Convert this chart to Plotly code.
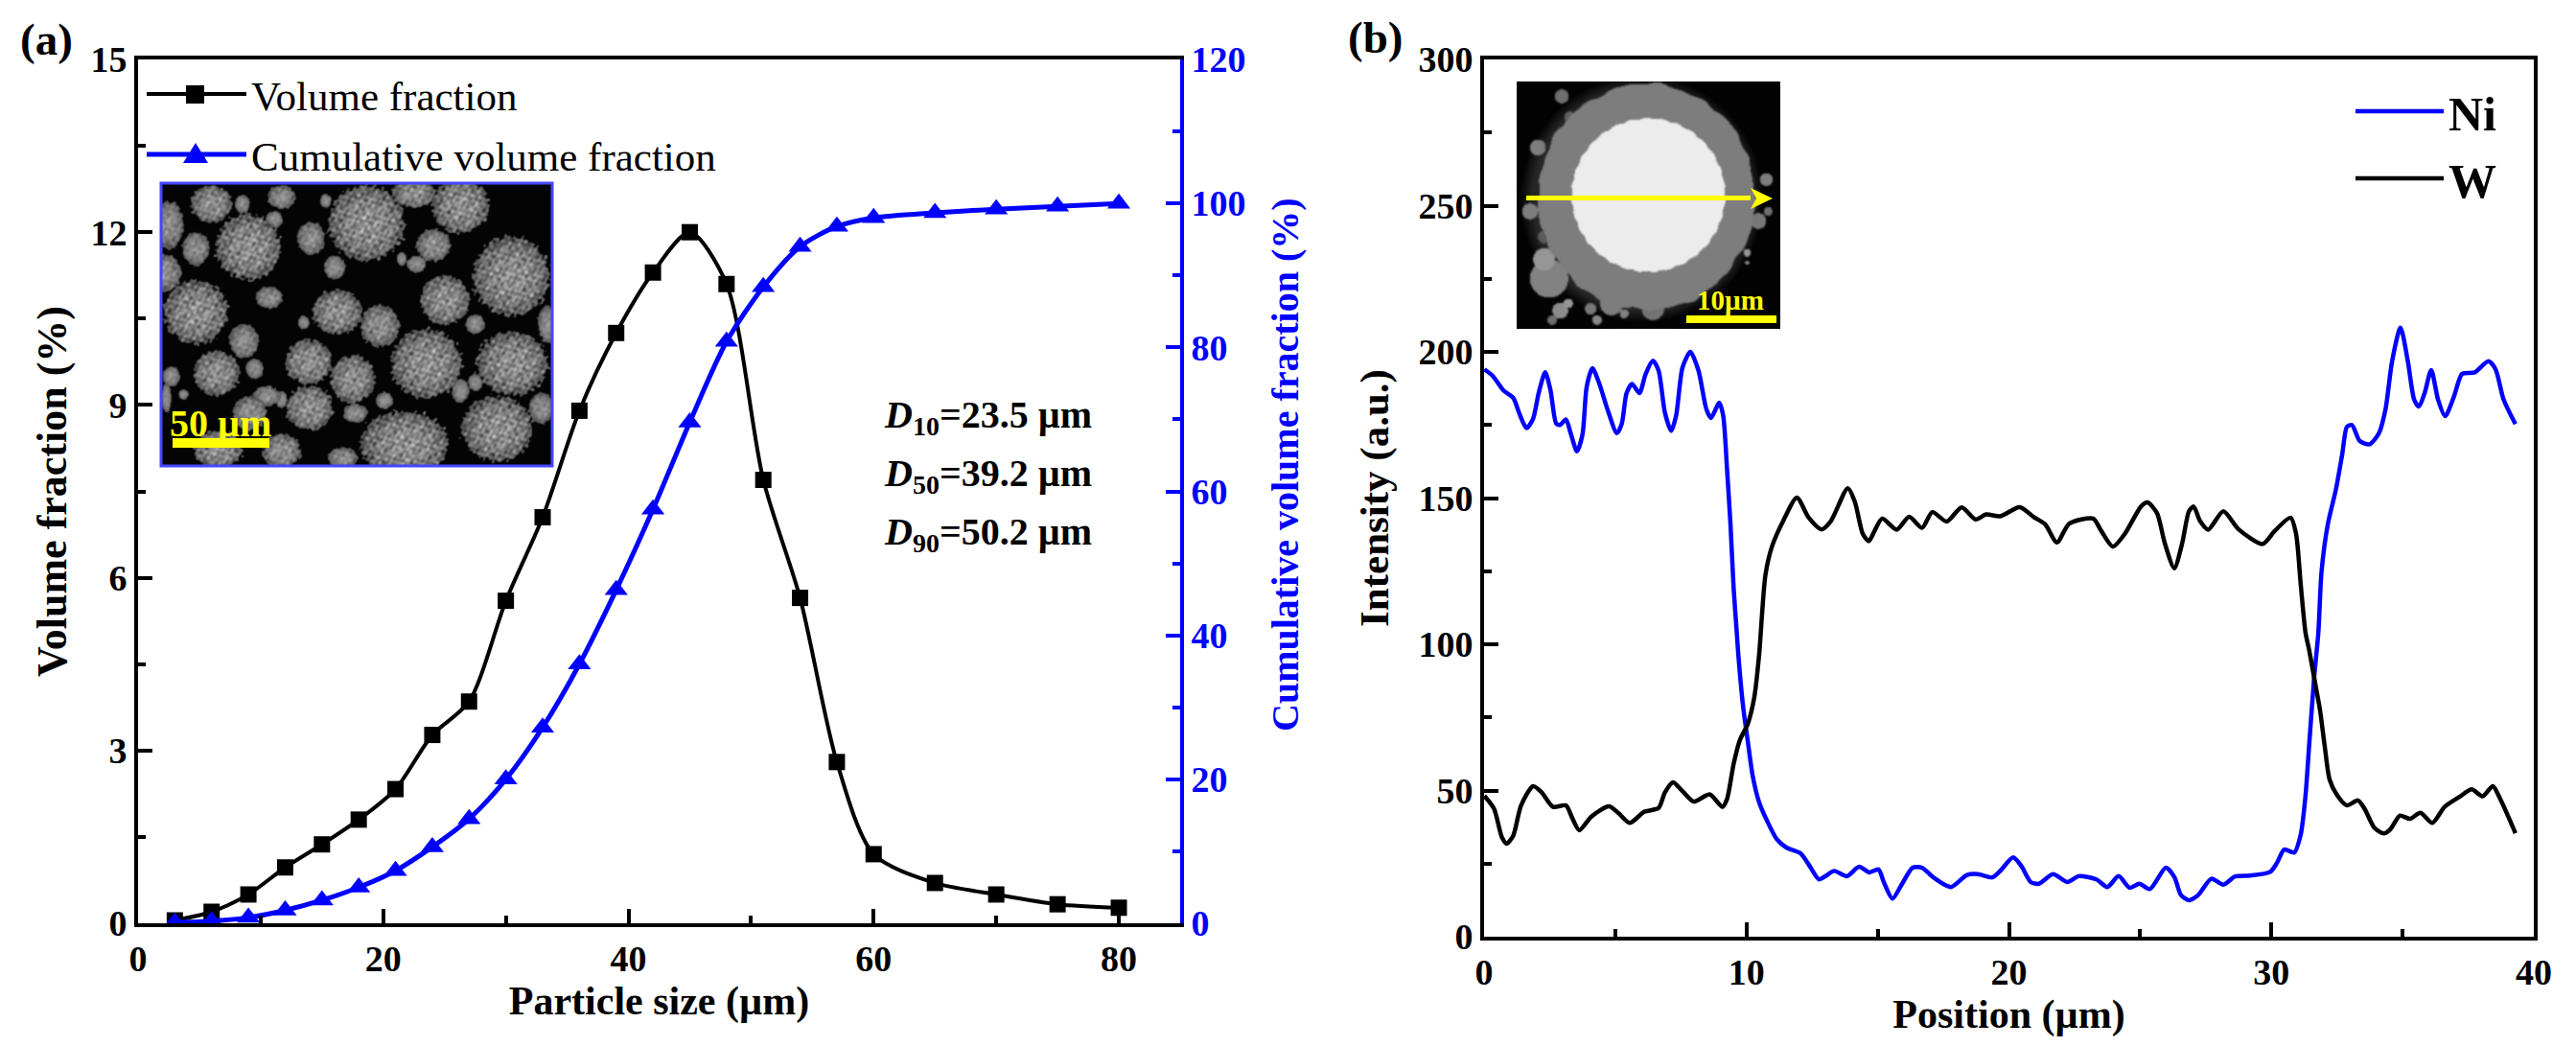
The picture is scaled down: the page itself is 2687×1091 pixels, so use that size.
import base64, struct, zlib
import numpy as np
import plotly.graph_objects as go

W, H = 2687, 1091
BLUE = "#0000ff"
SERIF = "Liberation Serif"

# ---------- data ----------
size_um = [3, 6, 9, 12, 15, 18, 21, 24, 27, 30, 33, 36, 39, 42, 45, 48, 51, 54, 57, 60, 65, 70, 75, 80]
volume_fraction = [0.05, 0.2, 0.5, 0.97, 1.37, 1.8, 2.33, 3.27, 3.85, 5.6, 7.05, 8.9, 10.25, 11.3, 12.0, 11.1,
                   7.7, 5.65, 2.8, 1.2, 0.7, 0.5, 0.33, 0.27]
cumulative_fraction = [0.1, 0.3, 0.8, 1.8, 3.2, 5.0, 7.3, 10.6, 14.5, 20.0, 27.2, 36.0, 46.3, 57.5, 69.6, 80.8,
                       88.4, 94.0, 96.8, 98.0, 98.7, 99.2, 99.6, 100.0]

ni_x = [0.01, 0.32, 0.74, 1.11, 1.35, 1.62, 1.87, 2.08, 2.33, 2.53, 2.75, 2.9, 3.12, 3.3, 3.54, 3.75, 3.91, 4.13,
        4.39, 4.7, 5.06, 5.25, 5.43, 5.64, 5.92, 6.16, 6.43, 6.65, 6.89, 7.13, 7.32, 7.56, 7.86, 8.17, 8.47, 8.65,
        8.96, 9.11, 9.26, 9.39, 9.51, 9.63, 9.69, 9.87, 10.05, 10.24, 10.48, 10.79, 11.15, 11.52, 12.06, 12.37,
        12.76, 13.04, 13.34, 13.83, 14.29, 14.68, 15.03, 15.23, 15.56, 15.9, 16.33, 16.69, 17.12, 17.79, 18.4,
        18.82, 19.37, 19.67, 20.16, 20.47, 20.83, 21.14, 21.68, 22.23, 22.66, 23.33, 23.75, 24.18, 24.6, 24.97,
        25.37, 25.98, 26.31, 26.55, 26.86, 27.22, 27.71, 28.17, 28.62, 29.17, 29.96, 30.21, 30.49, 30.87, 31.12,
        31.3, 31.45, 31.63, 31.79, 31.91, 32.15, 32.46, 32.7, 32.88, 33.07, 33.37, 33.74, 34.1, 34.35, 34.6,
        34.92, 35.2, 35.44, 35.62, 35.84, 36.09, 36.35, 36.62, 36.96, 37.27, 37.75, 38.27, 38.54, 38.85, 39.3]
ni_y = [194, 191.9, 186.8, 184.3, 178.8, 173.9, 177.2, 185.9, 193, 187, 175.5, 175, 176.9, 172.2, 166, 171.7, 188,
        194.4, 189.2, 180.4, 172.2, 175.5, 185.9, 189, 185.9, 192.5, 197, 193.6, 179.3, 173, 178.3, 194.6, 200,
        193.6, 180.4, 177.4, 182.6, 178.3, 159.7, 141, 119.2, 104, 96.3, 78.8, 66.8, 54.8, 46, 39.5, 33.4, 30.5,
        28.5, 24.7, 19.6, 20.9, 22.5, 20.7, 23.9, 22, 23, 18.7, 13, 17.6, 23.6, 23.6, 20.3, 17, 21.1, 21.4, 20.3,
        22.5, 27.1, 24.2, 18.7, 18.1, 21.4, 18.7, 20.7, 19.6, 17, 20.7, 16.7, 18.1, 16.3, 23.6, 20.3, 14.3, 12.5,
        14.3, 19.8, 17.8, 20.6, 20.9, 22.2, 25.2, 29.8, 28.8, 35, 48.2, 66.8, 88.6, 104, 124.7, 141, 153, 165,
        174.4, 175, 169.5, 168.4, 172.2, 180.4, 196.8, 208.3, 196.8, 183.7, 181.3, 185.9, 193.8, 183.7, 178,
        184.8, 192.5, 193, 196.8, 194.1, 183.7, 175.3]

w_x = [0.01, 0.38, 0.68, 0.86, 1.11, 1.41, 1.87, 2.2, 2.63, 3.12, 3.36, 3.63, 4.09, 4.76, 5.13, 5.55, 6.1, 6.65,
       6.89, 7.2, 7.5, 7.99, 8.6, 9.08, 9.26, 9.51, 9.75, 10.05, 10.3, 10.48, 10.72, 10.97, 11.4, 11.92, 12.37,
       12.86, 13.22, 13.86, 14.13, 14.43, 14.66, 14.86, 15.17, 15.72, 16.2, 16.69, 17.08, 17.63, 18.2, 18.73,
       19.13, 19.67, 20.41, 20.95, 21.38, 21.83, 22.3, 23.21, 23.51, 23.96, 24.42, 25.03, 25.28, 25.64, 25.94,
       26.3, 26.6, 26.86, 27.04, 27.28, 27.59, 28.17, 28.74, 29.66, 30.14, 30.73, 30.94, 31.12, 31.3, 31.43,
       31.63, 31.85, 32.04, 32.22, 32.52, 32.88, 33.3, 33.55, 33.92, 34.28, 34.53, 34.9, 35.28, 35.68, 36.13,
       36.6, 37.2, 37.63, 38.05, 38.44, 38.72, 39.3]
w_y = [48.2, 43.8, 34, 31.8, 34.5, 44.9, 51.5, 49.3, 44.4, 44.9, 40.6, 36.4, 41.1, 44.6, 42.2, 38.9, 42.7, 44,
       49.3, 52.8, 50.4, 46.2, 48.7, 44.4, 47.1, 59.1, 67.3, 72.8, 82, 96.3, 123.6, 133.4, 142.2, 150.2, 143.3,
       139.3, 142.2, 153.4, 148.7, 137.8, 135.3, 138.4, 143, 139.2, 143.6, 139.8, 145.2, 142, 146.8, 142.7,
       144.4, 143.8, 146.9, 143.5, 141, 134.8, 141.3, 143, 138.9, 133.4, 137.8, 147.1, 148.5, 144.9, 134.5,
       126, 134.5, 145.5, 147.1, 142.2, 139.2, 145.5, 139.4, 134.3, 138.9, 143.3, 137.8, 120.3, 104, 98.5,
       88.6, 77.7, 64.6, 53.7, 48.2, 44.9, 46.6, 43.8, 37.3, 35.3, 36.7, 41.4, 40.3, 42.4, 38.9, 44.4, 48,
       50.4, 48, 51.5, 47.1, 35.4]

d_labels = ["<i>D</i><sub>10</sub>=23.5 µm", "<i>D</i><sub>50</sub>=39.2 µm", "<i>D</i><sub>90</sub>=50.2 µm"]

# ---------- pixel helpers (layout only) ----------
ML, MR, MT, MB = 144, 2643, 62, 977   # plot area in page pixels
def px(x): return (x - ML) / (MR - ML)
def py(y): return (MB - y) / (MB - MT)

A = dict(l=144, r=1231, t=62, b=963)
B = dict(l=1548, r=2643, t=62, b=977)

# ---------- inset pictures ----------
def to_png(a):
    a = np.clip(a, 0, 255).astype(np.uint8)
    h, w = a.shape[:2]
    raw = b"".join(b"\x00" + a[i].tobytes() for i in range(h))
    def chunk(t, d):
        return struct.pack(">I", len(d)) + t + d + struct.pack(">I", zlib.crc32(t + d) & 0xffffffff)
    png = b"\x89PNG\r\n\x1a\n" + chunk(b"IHDR", struct.pack(">IIBBBBB", w, h, 8, 2, 0, 0, 0)) \
        + chunk(b"IDAT", zlib.compress(raw)) + chunk(b"IEND", b"")
    return "data:image/png;base64," + base64.b64encode(png).decode()

def blur(g, n=1):
    for _ in range(n):
        g = (g + np.roll(g, 1, 0) + np.roll(g, -1, 0) + np.roll(g, 1, 1) + np.roll(g, -1, 1)) / 5
    return g

def sem_inset():
    w, h = 408, 295
    yy, xx = np.mgrid[0:h, 0:w].astype(float)
    g = np.full((h, w), 4.0)
    waves = [(0.531, 0.947, 0.3), (0.853, -0.451, 1.1), (-0.317, 1.153, 2.0), (1.049, 0.233, 2.9), (0.719, 0.613, 4.1),
             (0.271, -0.823, 5.2), (1.237, 0.761, 0.7), (-0.643, 0.389, 3.5), (0.197, 0.433, 1.9), (-0.401, -0.157, 4.7)]
    tex = sum(np.sin(fx * xx + fy * yy + ph) for fx, fy, ph in waves) * 9.5
    parts = [(748,650,78,110),(507,720,66,95),(1043,805,78,115),(400,910,65,92),(870,1060,72,100),(1045,1060,72,92),
             (1015,1250,72,95),(825,1295,90,95),(632,1190,48,65),(630,1055,48,65),(720,1105,45,70),(442,1088,47,65),
             (908,875,50,72),(688,910,50,65),(775,950,40,60),(940,600,58,80),(432,595,42,55),(345,655,30,70),
             (400,725,28,48),(885,715,35,48),(635,695,28,48),(683,780,22,35),(575,575,28,35),(845,565,45,40),
             (335,795,35,55),(550,868,28,32),(495,595,15,28),(560,640,18,25),(665,585,12,20),(498,995,30,50),
             (520,1075,18,30),(350,1098,18,30),(970,945,20,28),(1118,945,20,55),(785,1168,18,25),(940,1140,18,35),
             (970,1115,15,25),(725,1205,25,28),(510,1205,35,50),(545,1155,28,30),(575,1165,12,25),(445,1310,50,55),
             (575,1315,40,50),(1105,1190,25,45),(850,770,20,25),(820,755,10,20),(620,940,12,20),(375,1150,10,15),
             (700,1335,30,30),(340,1160,10,45),(790,1350,35,20)]
    rough = tex / 9.5 * 0.035
    for zx, zy, rx, ry in reversed(parts):
        cx = (zx - 330) / 798 * w
        cy = (zy - 535) / 825 * h
        d2 = ((xx - cx) / (rx / 798 * w)) ** 2 + ((yy - cy) / (ry / 825 * h)) ** 2
        m = d2 <= 1 + rough
        shade = 58 + 85 * np.sqrt(np.clip(1 - d2, 0, 1)) + 0.12 * (xx - cx) + 0.05 * (yy - cy)
        amt = min(1.0, rx / 55.0)
        g[m] = (shade + tex * amt)[m]
    g = blur(g, 1)
    return to_png(np.stack([g, g, g], axis=2))

def xsect_inset():
    w, h = 275, 258
    yy, xx = np.mgrid[0:h, 0:w].astype(float)
    g = np.full((h, w), 3.0)
    haze = np.hypot((xx - 130) / 128, (yy - 122) / 130)
    g = np.where(haze < 1, 38 * np.clip((1 - haze) * 9, 0, 1), g)
    ang = np.arctan2(yy - 120, xx - 135)
    blobs = [(165,690,60,130),(150,630,35,150),(200,790,25,140),(295,785,18,120),(360,770,35,125),(490,785,35,115),
             (315,820,15,135),(400,800,14,130),(225,768,15,150),(175,820,15,110),(130,280,25,125),(205,120,22,110),
             (845,380,20,125),(785,610,12,150),(785,640,7,130),(150,560,20,90),(230,185,18,95),(850,480,14,110),
             (105,480,25,125),(820,510,25,120)]
    for zx, zy, r, v in blobs:
        d = np.hypot(xx - (zx - 65) / 3, yy - (zy - 75) / 3)
        g = np.where(d < r / 3, v, g)
    rim = 1 + 0.007 * np.sin(7 * ang) + 0.008 * np.sin(17 * ang + 1) + 0.006 * np.sin(29 * ang)
    outer = np.hypot((xx - 135) / 113, (yy - 120) / 118) < rim
    g[outer] = 125
    inner = np.hypot((xx - 137) / 80, (yy - 118) / 80) < 1 + 0.008 * np.sin(31 * ang)
    g[inner] = 236
    g = blur(g, 2)
    return to_png(np.stack([g, g, g], axis=2))

# ---------- traces ----------
fig = go.Figure()
fig.add_trace(go.Scatter(x=size_um, y=volume_fraction, name="Volume fraction", mode="lines+markers",
                         line=dict(color="black", width=4, shape="spline", smoothing=0.8),
                         marker=dict(symbol="square", size=17, color="black"),
                         xaxis="x", yaxis="y", legend="legend"))
fig.add_trace(go.Scatter(x=size_um, y=cumulative_fraction, name="Cumulative volume fraction", mode="lines+markers",
                         line=dict(color=BLUE, width=5, shape="spline", smoothing=0.8),
                         marker=dict(symbol="triangle-up", size=21, color=BLUE),
                         xaxis="x", yaxis="y2", legend="legend2"))
fig.add_trace(go.Scatter(x=ni_x, y=ni_y, name="<b>Ni</b>", mode="lines",
                         line=dict(color=BLUE, width=4.5, shape="spline", smoothing=0.7),
                         xaxis="x2", yaxis="y3", legend="legend3"))
fig.add_trace(go.Scatter(x=w_x, y=w_y, name="<b>W</b>", mode="lines",
                         line=dict(color="black", width=4.5, shape="spline", smoothing=0.7),
                         xaxis="x2", yaxis="y3", legend="legend4"))

# ---------- axes ----------
tick = dict(family=SERIF, size=38, color="black", weight="bold")
title_h = dict(family=SERIF, size=42, color="black", weight="bold")

def axis(rng, dtick, mdtick, color="black", **kw):
    d = dict(range=rng, dtick=dtick, tick0=0, showgrid=False, zeroline=False, showline=True,
             linecolor=color, linewidth=4, ticks="inside", ticklen=15, tickwidth=4, tickcolor=color,
             tickfont=dict(tick, color=color),
             minor=dict(dtick=mdtick, tick0=0, ticks="inside", ticklen=8, tickwidth=4, tickcolor=color, showgrid=False))
    d.update(kw)
    return d

layout = dict(
    width=W, height=H, autosize=False,
    margin=dict(l=ML, r=W - MR, t=MT, b=H - MB, autoexpand=False),
    paper_bgcolor="white", plot_bgcolor="white", showlegend=True,
    xaxis=axis([0, 85], 20, 10, domain=[px(A["l"]), px(A["r"])], anchor="y", mirror=True,
               title=dict(text="Particle size (µm)", font=title_h, standoff=8)),
    yaxis=axis([0, 15], 3, 1.5, domain=[py(A["b"]), py(A["t"])], anchor="x",
               title=dict(text="Volume fraction (%)", font=dict(title_h, size=44), standoff=12)),
    yaxis2=axis([0, 120], 20, 10, color=BLUE, overlaying="y", side="right", anchor="x"),
    xaxis2=axis([0, 40], 10, 5, domain=[px(B["l"]), px(B["r"])], anchor="y3", mirror=True,
                title=dict(text="Position (µm)", font=title_h, standoff=8)),
    yaxis3=axis([0, 300], 50, 25, domain=[py(B["b"]), py(B["t"])], anchor="x2", mirror=True,
                title=dict(text="Intensity (a.u.)", font=dict(title_h, size=43), standoff=18)),
)

def legend_at(x, y, size, width):
    return dict(x=px(x), y=py(y), xanchor="left", yanchor="middle", bgcolor="rgba(0,0,0,0)", borderwidth=0,
                itemwidth=width, font=dict(family=SERIF, size=size, color="black"), itemclick=False)

layout["legend"] = legend_at(148, 98, 43, 104)
layout["legend2"] = legend_at(148, 161, 43, 104)
layout["legend3"] = legend_at(2452, 116, 50, 92)
layout["legend4"] = legend_at(2452, 186, 50, 92)

annotations = []
def note(text, x, y, size=36, color="black", xanchor="left", bold=True, angle=0):
    annotations.append(dict(text=text, x=px(x), y=py(y), xref="paper", yref="paper", showarrow=False,
                            xanchor=xanchor, yanchor="middle", textangle=angle,
                            font=dict(family=SERIF, size=size, color=color, weight="bold" if bold else "normal")))

note("(a)", 19, 41, 47)
note("(b)", 1404, 39, 47)
for lab, yy in zip(d_labels, [435, 496, 557]):
    note(lab, 920, yy, 40)
note("50 µm", 230, 441, 40, "#ffff00", "center")
note("10µm", 1805, 313, 29, "#ffff00", "center")
note("Cumulative volume fraction (%)", 1340, 485, 40, BLUE, "center", angle=-90)
layout["annotations"] = annotations

layout["images"] = [
    dict(source=sem_inset(), xref="paper", yref="paper", x=px(168), y=py(191), sizex=408 / (MR - ML), sizey=295 / (MB - MT),
         xanchor="left", yanchor="top", sizing="stretch", layer="below"),
    dict(source=xsect_inset(), xref="paper", yref="paper", x=px(1582), y=py(85), sizex=275 / (MR - ML), sizey=258 / (MB - MT),
         xanchor="left", yanchor="top", sizing="stretch", layer="below"),
]

def rect(x0, y0, x1, y1, **kw):
    return dict(type="rect", xref="paper", yref="paper", x0=px(x0), x1=px(x1), y0=py(y0), y1=py(y1), layer="above", **kw)

layout["shapes"] = [
    rect(168, 191, 576, 486, line=dict(color="#4646ff", width=3), fillcolor="rgba(0,0,0,0)"),
    rect(180, 457, 281, 467, line=dict(width=0), fillcolor="#ffff00"),
    rect(1759, 329, 1853, 337, line=dict(width=0), fillcolor="#ffff00"),
    rect(1592, 204, 1826, 209, line=dict(width=0), fillcolor="#ffff00"),
    dict(type="path", xref="paper", yref="paper", layer="above", line=dict(width=0), fillcolor="#ffff00",
         path=f"M {px(1826)} {py(196)} L {px(1849)} {py(207)} L {px(1826)} {py(218)} L {px(1832)} {py(207)} Z"),
    # enlarged legend glyphs (the legend clamps marker size)
    rect(194, 89, 213, 108, line=dict(width=0), fillcolor="black"),
    dict(type="path", xref="paper", yref="paper", layer="above", line=dict(width=0), fillcolor=BLUE,
         path=f"M {px(191)} {py(170)} L {px(204)} {py(149)} L {px(217)} {py(170)} Z"),
]

fig.update_layout(**layout)
fig.write_html("out.html", config=dict(displayModeBar=False),
               post_script="document.body.style.margin='0';document.body.style.overflow='hidden';")
